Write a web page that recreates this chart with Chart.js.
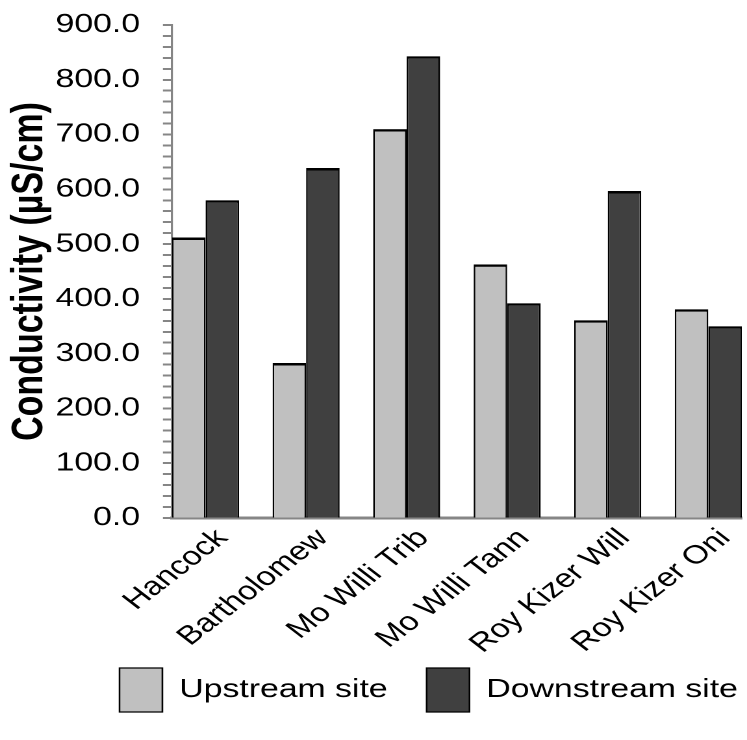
<!DOCTYPE html>
<html>
<head>
<meta charset="utf-8">
<script src="https://cdn.jsdelivr.net/npm/chart.js@4.4.1/dist/chart.umd.min.js"></script>
<style>
  html, body { margin: 0; padding: 0; background: #ffffff; overflow: hidden; }
  #c { display: block; }
</style>
</head>
<body>
<canvas id="c" width="575" height="740"></canvas>
<script>
// Sites along the x axis
const sites = ['Hancock', 'Bartholomew', 'Mo Willi Trib', 'Mo Willi Tann', 'Roy Kizer Will', 'Roy Kizer Oni'];

// Conductivity readings (µS/cm)
const upstream = [512, 283, 710, 463, 361, 381];
const downstream = [580, 639, 843, 392, 597, 350];

const seriesNames = ['Upstream site', 'Downstream site'];
const axisTitle = 'Conductivity (µS/cm)';

// Value axis: labelled every 100, minor marks every 20
const yMin = 0;
const yMax = 900;
const yMajor = 100;
const yMinor = 20;

const FONT = '"Liberation Sans", Arial, sans-serif';

// The figure is laid out on a narrower canvas and shown widened to the page width
const SHOW_WIDTH = 747;
const SHOW_HEIGHT = 740;

const canvas = document.getElementById('c');

Chart.defaults.color = '#000000';
Chart.defaults.font.family = FONT;

// Bars fill two thirds of each slot; the remaining third is split around the group
const groupShare = 2 / 3;
const edge = (1 - groupShare) / 2;

// The key sits under the plot, indented from the left margin;
// the slanted site names may run down into the empty band above the key
const legendIndent = 61;
const layoutTweaks = {
  id: 'layoutTweaks',
  afterLayout(chart) {
    if (chart.legend) {
      chart.legend.left += legendIndent;
      chart.legend.right += legendIndent;
    }
    const xs = chart.scales.x;
    if (xs) xs.bottom = chart.height;
  }
};

const barBorder = { top: 2.5, left: 1.3, right: 1.3, bottom: 0 };

new Chart(canvas, {
  type: 'bar',
  data: {
    datasets: [
      {
        label: seriesNames[0],
        data: upstream.map((v, i) => ({ x: i, y: v })),
        backgroundColor: '#c0c0c0',
        borderColor: '#000000',
        borderWidth: barBorder
      },
      {
        label: seriesNames[1],
        data: downstream.map((v, i) => ({ x: i, y: v })),
        backgroundColor: '#404040',
        borderColor: '#000000',
        borderWidth: barBorder
      }
    ]
  },
  plugins: [layoutTweaks],
  options: {
    responsive: false,
    animation: false,
    devicePixelRatio: 2,
    datasets: {
      bar: { categoryPercentage: groupShare, barPercentage: 1 }
    },
    layout: { padding: { left: 1, top: 25, right: 4, bottom: 18 } },
    plugins: {
      tooltip: { enabled: false },
      legend: {
        position: 'bottom',
        align: 'start',
        labels: {
          boxWidth: 33,
          boxHeight: 44,
          padding: 30,
          color: '#000000',
          font: { family: FONT, size: 26 }
        }
      }
    },
    scales: {
      x: {
        type: 'linear',
        min: -0.5 + edge,
        max: sites.length - 0.5 - edge,
        offset: false,
        grid: { display: false, drawTicks: false },
        border: { display: true, color: '#868686', width: 3 },
        afterFit(scale) {
          scale.height = 120;
          scale.paddingLeft = 0;
          scale.paddingRight = 0;
        },
        ticks: {
          stepSize: 1,
          includeBounds: false,
          autoSkip: false,
          minRotation: 45,
          maxRotation: 45,
          padding: 5,
          labelOffset: 13,
          color: '#000000',
          font: { family: FONT, size: 26 },
          callback: (v) => (Number.isInteger(v) && sites[v] !== undefined ? sites[v] : '')
        }
      },
      y: {
        min: yMin,
        max: yMax,
        afterFit(scale) {
          scale.width = 131.4;
          scale.paddingTop = 0;
          scale.paddingBottom = 0;
        },
        grid: {
          drawOnChartArea: false,
          drawTicks: true,
          tickLength: 7,
          tickColor: '#868686',
          tickWidth: 2
        },
        border: { display: true, color: '#868686', width: 1.6 },
        ticks: {
          stepSize: yMinor,
          autoSkip: false,
          padding: 17.6,
          color: '#000000',
          font: { family: FONT, size: 26 },
          callback: (v) => (v % yMajor === 0 ? v.toFixed(1) : '')
        },
        title: {
          display: true,
          text: axisTitle,
          color: '#000000',
          font: { family: FONT, size: 34, weight: 'bold' },
          padding: { top: 1.6, bottom: 2 }
        }
      }
    }
  }
});

// Show the drawing widened to the full page width
canvas.style.width = SHOW_WIDTH + 'px';
canvas.style.height = SHOW_HEIGHT + 'px';
</script>
</body>
</html>
